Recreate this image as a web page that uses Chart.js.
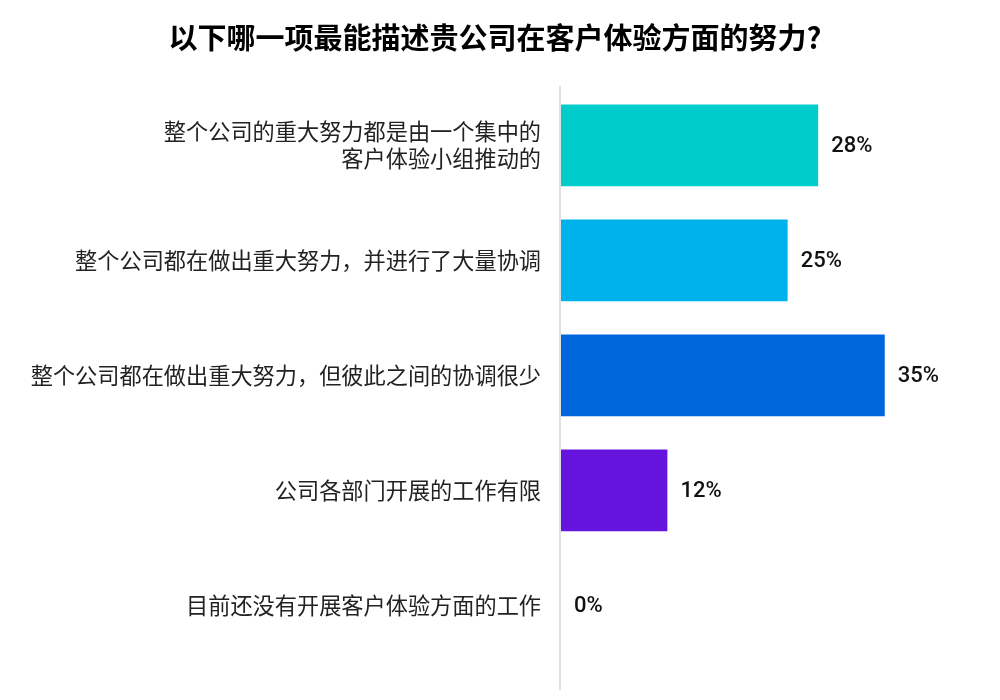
<!DOCTYPE html>
<html>
<head>
<meta charset="utf-8">
<script src="https://cdn.jsdelivr.net/npm/chart.js@4/dist/chart.umd.min.js"></script>
<style>
    html, body { margin: 0; padding: 0; background: #fff; }
    #wrap { width: 1000px; height: 700px; }
</style>
</head>
<body>
<div id="wrap"><canvas id="barChart" width="1000" height="700"></canvas></div>
<script>
const chartTitle = '以下哪一项最能描述贵公司在客户体验方面的努力?';

const categories = [
    ['整个公司的重大努力都是由一个集中的', '客户体验小组推动的'],
    '整个公司都在做出重大努力，并进行了大量协调',
    '整个公司都在做出重大努力，但彼此之间的协调很少',
    '公司各部门开展的工作有限',
    '目前还没有开展客户体验方面的工作'
];
// bar lengths; shown rounded
const values = [27.8, 24.5, 35, 11.5, 0];
const barColors = ['#00CCCC', '#00B2EC', '#0066DD', '#6414DC', '#999999'];

Chart.defaults.font.family = '"Noto Sans CJK SC", "Noto Sans", sans-serif';
Chart.defaults.color = '#222';

// value labels to the right of each bar
const valueLabels = {
    id: 'valueLabels',
    afterDatasetsDraw(chart) {
        const ctx = chart.ctx;
        const meta = chart.getDatasetMeta(0);
        ctx.save();
        ctx.font = '500 22px Roboto, sans-serif';
        ctx.fillStyle = '#111';
        ctx.textAlign = 'left';
        ctx.textBaseline = 'middle';
        meta.data.forEach((bar, i) => {
            ctx.fillText(Math.round(values[i]) + '%', bar.x + 13, bar.y + 1);
        });
        ctx.restore();
    }
};

// long light axis line at the left of the bars
const axisLine = {
    id: 'axisLine',
    beforeDatasetsDraw(chart) {
        const ctx = chart.ctx;
        const x = chart.chartArea.left - 1;
        ctx.save();
        ctx.strokeStyle = '#e0e0e0';
        ctx.lineWidth = 2;
        ctx.beginPath();
        ctx.moveTo(x, 86);
        ctx.lineTo(x, 690);
        ctx.stroke();
        ctx.restore();
    }
};

function createBarChart() {
    const ctx = document.getElementById('barChart');

    new Chart(ctx, {
        type: 'bar',
        data: {
            labels: categories,
            datasets: [{
                data: values,
                backgroundColor: barColors,
                borderWidth: 0,
                barPercentage: 0.71,
                categoryPercentage: 1
            }]
        },
        options: {
            indexAxis: 'y',
            responsive: false,
            animation: false,
            layout: {
                padding: { left: 0, right: 10, top: 0, bottom: 37 }
            },
            plugins: {
                legend: { display: false },
                tooltip: { enabled: false },
                title: {
                    display: true,
                    text: chartTitle,
                    color: '#000',
                    font: { size: 29, weight: 'bold' },
                    padding: { top: 21, bottom: 32 }
                }
            },
            scales: {
                x: {
                    display: false,
                    min: 0,
                    max: 40
                },
                y: {
                    afterFit(scale) {
                        scale.width = 561;
                        scale.paddingTop = 0;
                        scale.paddingBottom = 0;
                    },
                    grid: { display: false, drawTicks: false },
                    border: { display: false },
                    ticks: {
                        padding: 20,
                        color: '#222',
                        font: { size: 22.2, lineHeight: 1.21 }
                    }
                },
                // empty space on the right, keeps the bars short of the edge
                yRight: {
                    type: 'category',
                    position: 'right',
                    afterFit(scale) {
                        scale.width = 59;
                        scale.paddingTop = 0;
                        scale.paddingBottom = 0;
                    },
                    grid: { display: false, drawTicks: false },
                    border: { display: false },
                    ticks: { display: false }
                }
            }
        },
        plugins: [axisLine, valueLabels]
    });
}

createBarChart();
</script>
</body>
</html>
